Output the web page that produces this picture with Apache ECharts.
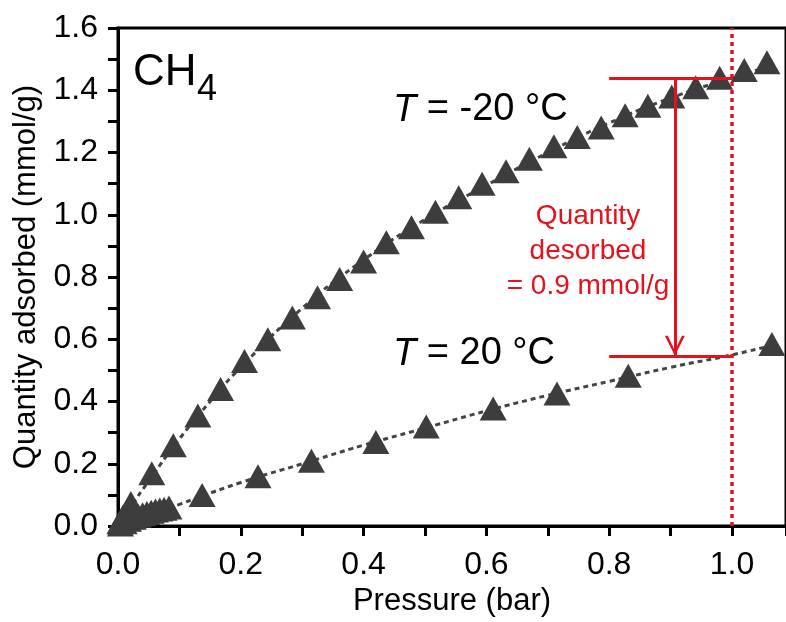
<!DOCTYPE html>
<html>
<head>
<meta charset="utf-8">
<script src="https://cdn.jsdelivr.net/npm/echarts@6/dist/echarts.min.js"></script>
<style>
  html, body { margin: 0; padding: 0; background: #fff; }
  #container { width: 786px; height: 622px; }
</style>
</head>
<body>
<div id="container"></div>
<script>
let chart = echarts.init(document.getElementById('container'));

// T = -20 °C isotherm
var coldX = [0.003, 0.008, 0.021, 0.055, 0.09, 0.13, 0.167, 0.206, 0.244, 0.284, 0.325, 0.361, 0.40, 0.437, 0.478,
    0.517, 0.555, 0.593, 0.632, 0.67, 0.71, 0.748, 0.787, 0.826, 0.863, 0.902, 0.941, 0.98, 1.02, 1.057];
var coldY = [0.012, 0.03, 0.074, 0.17, 0.26, 0.355, 0.44, 0.53, 0.60, 0.67, 0.735, 0.794, 0.85, 0.912, 0.96,
    1.01, 1.056, 1.10, 1.14, 1.18, 1.22, 1.25, 1.28, 1.32, 1.35, 1.38, 1.41, 1.44, 1.465, 1.49];
// T = 20 °C isotherm
var warmX = [0.004, 0.01, 0.017, 0.025, 0.033, 0.04, 0.047, 0.054, 0.061, 0.068, 0.075, 0.083,
    0.137, 0.228, 0.315, 0.42, 0.502, 0.611, 0.715, 0.831, 1.065];
var warmY = [0.005, 0.012, 0.02, 0.027, 0.033, 0.038, 0.042, 0.046, 0.05, 0.053, 0.056, 0.06,
    0.1, 0.16, 0.21, 0.27, 0.32, 0.378, 0.426, 0.483, 0.585];

// dotted fit curves
var coldFitX = [0, 0.02, 0.05, 0.1, 0.15, 0.2, 0.3, 0.4, 0.5, 0.6, 0.7, 0.8, 0.9, 1.0, 1.05];
var coldFitY = [0, 0.06, 0.145, 0.28, 0.40, 0.51, 0.70, 0.855, 0.985, 1.095, 1.2, 1.295, 1.375, 1.44, 1.47];
var warmFitX = [0, 0.05, 0.1, 0.2, 0.3, 0.4, 0.5, 0.6, 0.7, 0.8, 0.9, 1.0, 1.06];
var warmFitY = [0, 0.035, 0.07, 0.14, 0.2, 0.26, 0.315, 0.37, 0.42, 0.465, 0.51, 0.55, 0.578];

// annotation values
var refPressure = 1.0;
var bracketStart = 0.8;
var arrowX = 0.907;
var desorbTop = 1.44;
var desorbBottom = 0.547;

var xTicks = ['0.0', '0.2', '0.4', '0.6', '0.8', '1.0'];
var yTicks = ['0.0', '0.2', '0.4', '0.6', '0.8', '1.0', '1.2', '1.4', '1.6'];

var red = '#e5121b';
var markerColor = '#3d3d3d';
var font = 'Liberation Sans, Arial, sans-serif';

function pairs(xs, ys) {
    return xs.map((x, i) => [x, ys[i]]);
}

var tickStyle = { show: true, length: 10, lineStyle: { color: '#000', width: 3 } };

let option = {
    animation: false,
    grid: {
        left: 118,
        right: -4,
        top: 28,
        bottom: 94,
        show: true,
        borderColor: '#000',
        borderWidth: 3,
    },
    xAxis: [{
        type: 'value',
        min: 0,
        max: 1.088,
        interval: 0.2,
        name: 'Pressure (bar)',
        nameLocation: 'middle',
        nameGap: 56,
        nameTextStyle: { fontSize: 31, color: '#000', fontFamily: font },
        axisLine: { show: true, lineStyle: { color: '#000', width: 3 } },
        axisTick: tickStyle,
        axisLabel: {
            fontSize: 32, color: '#000', fontFamily: font, margin: 23, showMaxLabel: false,
            formatter: v => xTicks[Math.round(v / 0.2)] || ''
        },
        splitLine: { show: false },
    }, {
        // minor ticks
        type: 'value',
        position: 'bottom',
        min: 0,
        max: 1.088,
        interval: 0.1,
        axisLine: { show: false },
        axisTick: tickStyle,
        axisLabel: { show: false },
        splitLine: { show: false },
    }],
    yAxis: {
        type: 'value',
        min: 0,
        max: 1.6,
        interval: 0.2,
        name: 'Quantity adsorbed (mmol/g)',
        nameLocation: 'middle',
        nameGap: 76,
        nameTextStyle: { fontSize: 31, color: '#000', fontFamily: font },
        axisLine: { show: true, lineStyle: { color: '#000', width: 3 } },
        axisTick: tickStyle,
        minorTick: { show: true, splitNumber: 2, length: 10, lineStyle: { color: '#000', width: 3 } },
        axisLabel: {
            fontSize: 32, color: '#000', fontFamily: font, margin: 20,
            formatter: v => yTicks[Math.round(v / 0.2)]
        },
        splitLine: { show: false },
    },
    series: [{
            name: 'fit -20',
            type: 'line',
            smooth: true,
            symbol: 'none',
            data: pairs(coldFitX, coldFitY),
            lineStyle: { color: '#444', width: 3, type: [5, 4] },
            z: 1,
        },
        {
            name: 'fit 20',
            type: 'line',
            smooth: true,
            symbol: 'none',
            data: pairs(warmFitX, warmFitY),
            lineStyle: { color: '#444', width: 3, type: [5, 4] },
            z: 1,
        },
        {
            name: '-20 °C',
            type: 'scatter',
            symbol: 'triangle',
            symbolSize: [27, 24],
            itemStyle: { color: markerColor, opacity: 1 },
            data: pairs(coldX, coldY),
            z: 3,
        },
        {
            name: '20 °C',
            type: 'scatter',
            symbol: 'triangle',
            symbolSize: [27, 24],
            itemStyle: { color: markerColor, opacity: 1 },
            data: pairs(warmX, warmY),
            z: 3,
        },
        {
            name: 'annotation',
            type: 'line',
            symbol: 'none',
            data: [],
            z: 4,
            markLine: {
                silent: true,
                symbol: 'none',
                label: { show: false },
                emphasis: { disabled: true },
                lineStyle: { color: red, width: 3, type: 'solid' },
                data: [
                    [{ coord: [refPressure, 0], lineStyle: { type: [4, 4], width: 3.5, color: red } },
                        { coord: [refPressure, 1.6] }],
                    [{ coord: [bracketStart, desorbTop] }, { coord: [refPressure, desorbTop] }],
                    [{ coord: [bracketStart, desorbBottom] }, { coord: [refPressure, desorbBottom] }],
                    [{ coord: [arrowX, desorbTop] },
                        { coord: [arrowX, desorbBottom],
                          symbol: 'path://M0,20 L10,0 L20,20 L17,20 L10,5 L3,20 Z',
                          symbolSize: [20, 20],
                          symbolOffset: [0, 10] }],
                ],
            },
        },
    ],
    graphic: [{
            type: 'text', left: 133, top: 51,
            style: { text: 'CH', fontSize: 44, fill: '#000', fontFamily: font }
        },
        {
            type: 'text', left: 197, top: 72,
            style: { text: '4', fontSize: 36, fill: '#000', fontFamily: font }
        },
        {
            type: 'text', left: 393, top: 91,
            style: {
                text: '{i|T}{n| = -20 °C}',
                rich: {
                    i: { fontSize: 38, fontStyle: 'italic', fill: '#000', fontFamily: font },
                    n: { fontSize: 38, fill: '#000', fontFamily: font },
                }
            }
        },
        {
            type: 'text', left: 393, top: 335,
            style: {
                text: '{i|T}{n| = 20 °C}',
                rich: {
                    i: { fontSize: 38, fontStyle: 'italic', fill: '#000', fontFamily: font },
                    n: { fontSize: 38, fill: '#000', fontFamily: font },
                }
            }
        },
        {
            type: 'text', x: 588, y: 199,
            style: {
                text: 'Quantity\ndesorbed\n= 0.9 mmol/g',
                fontSize: 28, lineHeight: 35, fill: red, fontFamily: font,
                align: 'center'
            }
        },
    ],
};
chart.setOption(option);
</script>
</body>
</html>
